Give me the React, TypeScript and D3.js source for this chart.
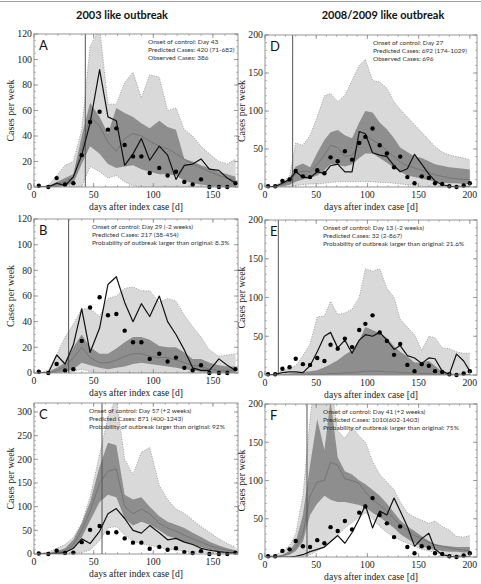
import React from 'react';
import * as d3 from 'd3';

const W = 481;
const H = 584;

// weekly bins (day of the bin) for the two outbreaks
const sarsDays = [4, 12, 19, 26, 33, 40, 47, 55, 62, 69, 76, 83, 90, 97, 105, 112, 119, 126, 133, 140, 147, 155, 162, 169];
const fluDays = [3, 10, 17, 24, 30, 37, 44, 51, 58, 64, 71, 78, 85, 92, 98, 105, 112, 119, 126, 132, 139, 146, 153, 160, 166, 173, 180, 187, 194, 200];

// observed cases per week
const sarsObserved = [1, 0, 7, 2, 3, 25, 51, 59, 45, 46, 33, 24, 24, 11, 15, 9, 12, 4, 2, 6, 0, 0, 0, 3];
const fluObserved = [1, 1, 8, 10, 21, 14, 13, 22, 18, 39, 34, 47, 36, 58, 66, 77, 55, 44, 26, 40, 13, 5, 14, 12, 5, 4, 1, 0, 2, 5];

// A: control at day 43
const aOuterHi = [0, 1, 9, 17, 20, 45, 110, 125, 65, 65, 82, 90, 70, 88, 86, 60, 62, 45, 40, 32, 26, 20, 18, 22];
const aOuterLo = [0, 0, 0, 0, 0, 0, 16, 12, 7, 9, 4, 1, 0, 0, 0, 0, 0, 0, 0, 0, 0, 0, 0, 0];
const aInnerHi = [0, 1, 4, 7, 10, 40, 66, 55, 42, 62, 58, 55, 50, 46, 52, 47, 45, 22, 20, 17, 15, 12, 10, 8];
const aInnerLo = [0, 0, 0, 1, 3, 18, 32, 26, 18, 15, 16, 17, 14, 12, 10, 10, 9, 5, 3, 2, 1, 0, 0, 0];
const aMedian = [0, 0, 2, 4, 8, 30, 55, 48, 35, 28, 38, 42, 40, 36, 32, 30, 26, 22, 18, 15, 12, 9, 7, 5];
const aRun = [0, 0, 3, 1, 8, 25, 50, 92, 55, 52, 17, 26, 38, 21, 32, 25, 6, 17, 18, 22, 14, 13, 7, 3];

// B: control two weeks earlier
const bOuterHi = [0, 2, 14, 28, 38, 50, 50, 44, 58, 60, 66, 67, 64, 64, 55, 58, 56, 45, 36, 28, 18, 13, 14, 15];
const bOuterLo = [0, 0, 0, 0, 1, 3, 1, 0, 0, 0, 0, 0, 0, 0, 0, 0, 0, 0, 0, 0, 0, 0, 0, 0];
const bInnerHi = [0, 1, 4, 8, 20, 30, 20, 15, 15, 19, 24, 28, 28, 26, 21, 20, 20, 16, 11, 11, 8, 6, 5, 5];
const bInnerLo = [0, 0, 0, 1, 3, 8, 6, 4, 3, 4, 5, 7, 8, 7, 6, 5, 4, 3, 2, 1, 0, 0, 0, 0];
const bMedian = [0, 0, 2, 5, 12, 20, 12, 8, 8, 10, 13, 15, 15, 13, 12, 12, 10, 8, 6, 5, 3, 2, 2, 2];
const bRun = [0, 0, 14, 7, 22, 50, 16, 35, 69, 75, 55, 40, 54, 44, 60, 40, 30, 18, 4, 2, 2, 11, 6, 2];

// C: control two weeks later
const cOuterHi = [1, 4, 12, 20, 35, 65, 120, 210, 290, 330, 200, 168, 215, 225, 145, 115, 95, 86, 72, 58, 46, 32, 22, 15];
const cOuterLo = [0, 0, 0, 0, 1, 3, 8, 28, 55, 58, 40, 26, 22, 18, 14, 10, 8, 6, 4, 3, 2, 1, 1, 0];
const cInnerHi = [0, 2, 6, 12, 30, 65, 110, 185, 235, 230, 125, 115, 120, 100, 80, 68, 62, 55, 45, 36, 26, 18, 12, 8];
const cInnerLo = [0, 0, 1, 3, 12, 35, 70, 110, 125, 120, 75, 60, 68, 62, 50, 38, 33, 25, 20, 14, 9, 6, 4, 2];
const cMedian = [0, 1, 3, 7, 20, 50, 90, 150, 175, 180, 100, 85, 95, 85, 65, 55, 48, 40, 32, 25, 18, 12, 8, 5];
const cRun = [0, 0, 1, 3, 12, 32, 22, 48, 85, 96, 75, 50, 44, 60, 45, 30, 33, 25, 20, 12, 8, 5, 3, 2];

// D: control at day 27
const dOuterHi = [0, 2, 7, 14, 58, 55, 68, 92, 120, 123, 112, 121, 140, 160, 168, 140, 138, 130, 112, 102, 92, 82, 72, 62, 53, 46, 42, 40, 38, 36];
const dOuterLo = [0, 0, 0, 0, 2, 3, 4, 4, 5, 6, 7, 7, 7, 7, 7, 7, 6, 6, 5, 4, 3, 2, 1, 0, 0, 0, 0, 0, 0, 0];
const dInnerHi = [0, 1, 5, 12, 27, 31, 26, 45, 62, 72, 75, 68, 64, 85, 100, 98, 85, 76, 64, 52, 46, 40, 38, 34, 30, 28, 26, 25, 24, 23];
const dInnerLo = [0, 0, 1, 3, 7, 10, 12, 15, 22, 30, 29, 27, 30, 38, 44, 44, 38, 32, 25, 20, 15, 13, 11, 9, 7, 6, 5, 5, 4, 4];
const dMedian = [0, 1, 3, 8, 17, 21, 20, 30, 42, 55, 52, 40, 42, 55, 68, 62, 56, 48, 40, 33, 28, 25, 22, 19, 16, 14, 12, 11, 10, 10];
const dRun = [0, 1, 5, 10, 20, 13, 12, 20, 18, 28, 30, 20, 20, 73, 70, 45, 42, 40, 28, 20, 24, 43, 30, 17, 8, 3, 1, 0, 0, 0];

// E: control two weeks earlier
const eOuterHi = [0, 1, 6, 9, 12, 25, 40, 75, 76, 95, 78, 80, 85, 100, 137, 134, 137, 112, 100, 72, 62, 52, 32, 50, 48, 35, 34, 30, 28, 28];
const eOuterLo = [0, 0, 0, 0, 0, 0, 0, 0, 0, 0, 0, 0, 0, 0, 0, 0, 0, 0, 0, 0, 0, 0, 0, 0, 0, 0, 0, 0, 0, 0];
const eInnerHi = [0, 0, 1, 2, 3, 4, 5, 6, 10, 14, 19, 26, 32, 45, 62, 58, 54, 48, 37, 30, 24, 16, 16, 18, 12, 4, 2, 1, 1, 1];
const eInnerLo = [0, 0, 0, 0, 0, 0, 0, 0, 0, 0, 0, 0, 0, 0, 0, 0, 0, 0, 0, 0, 0, 0, 0, 0, 0, 0, 0, 0, 0, 0];
const eMedian = [0, 0, 0, 0, 0, 0, 1, 1, 1, 2, 2, 3, 3, 4, 5, 5, 5, 4, 4, 3, 3, 2, 2, 2, 1, 1, 1, 0, 0, 0];
const eRun = [0, 1, 3, 4, 4, 3, 12, 30, 50, 55, 35, 45, 28, 45, 52, 50, 55, 45, 33, 38, 25, 22, 15, 22, 21, 5, 1, 27, 18, 5];

// F: control two weeks later
const fOuterHi = [1, 3, 7, 15, 30, 80, 180, 260, 260, 230, 165, 155, 170, 158, 150, 125, 108, 98, 88, 72, 58, 52, 48, 44, 47, 40, 35, 27, 26, 28];
const fOuterLo = [0, 0, 0, 0, 0, 0, 3, 8, 13, 20, 28, 38, 45, 52, 58, 50, 40, 32, 26, 22, 18, 14, 10, 8, 6, 4, 3, 2, 1, 1];
const fInnerHi = [0, 1, 3, 8, 20, 55, 120, 180, 140, 205, 130, 112, 108, 100, 95, 88, 80, 70, 58, 48, 40, 34, 27, 21, 17, 15, 14, 13, 13, 13];
const fInnerLo = [0, 0, 1, 3, 8, 20, 55, 70, 80, 75, 72, 72, 70, 68, 65, 58, 52, 45, 38, 30, 24, 18, 14, 11, 9, 8, 7, 7, 6, 6];
const fMedian = [0, 0, 2, 5, 12, 30, 80, 98, 100, 124, 120, 102, 100, 96, 85, 75, 68, 60, 50, 42, 35, 28, 24, 19, 16, 14, 12, 10, 9, 8];
const fRun = [0, 0, 0, 0, 1, 3, 7, 10, 13, 20, 28, 18, 32, 50, 68, 38, 60, 55, 77, 60, 40, 14, 24, 31, 10, 3, 1, 0, 0, 0];

const SERIF = '"Liberation Serif", "DejaVu Serif", serif';
const SANS = 'Lato, "Open Sans", sans-serif';

const LIGHT = '#d9d9d9';
const DARK = '#8e8e8e';
const FRAME = '#8a8a8a';

type Box = { x0: number; x1: number; y0: number; y1: number };

type PanelProps = {
  id: string;
  letter: string;
  box: Box;
  days: number[];
  observed: number[];
  xMax: number;
  yMax: number;
  yStep: number;
  yMinor: number;
  control: number;
  notes: string[];
  noteX: number;
  outerHi: number[];
  outerLo: number[];
  innerHi: number[];
  innerLo: number[];
  median: number[];
  run: number[];
};

function Panel(p: PanelProps) {
  const { x0, x1, y0, y1 } = p.box;
  const x = d3.scaleLinear().domain([0, p.xMax]).range([x0, x1]);
  const y = d3.scaleLinear().domain([0, p.yMax]).range([y1, y0]);
  const idx = d3.range(p.days.length);

  const band = (lo: number[], hi: number[]) =>
    d3.area<number>().x(i => x(p.days[i])).y0(i => y(lo[i])).y1(i => y(hi[i]))(idx) || '';
  const line = (v: number[]) =>
    d3.line<number>().x(i => x(p.days[i])).y(i => y(v[i]))(idx) || '';

  const xMajor = d3.range(0, p.xMax + 0.1, 50);
  const xMinor = d3.range(0, p.xMax + 0.1, 10);
  const yMajor = d3.range(0, p.yMax + 0.1, p.yStep);
  const yMinor = d3.range(0, p.yMax + 0.1, p.yMinor);
  const clip = `clip-${p.id}`;

  return (
    <g>
      <defs>
        <clipPath id={clip}>
          <rect x={x0} y={y0} width={x1 - x0} height={y1 - y0} />
        </clipPath>
      </defs>
      <g clipPath={`url(#${clip})`}>
        <path d={band(p.outerLo, p.outerHi)} fill={LIGHT} />
        <path d={band(p.innerLo, p.innerHi)} fill={DARK} />
        <path d={line(p.outerHi)} fill="none" stroke="#8c8c8c" strokeWidth={0.8} strokeDasharray="1,1.5" />
        <path d={line(p.outerLo)} fill="none" stroke="#8c8c8c" strokeWidth={0.8} strokeDasharray="1,1.5" />
        <path d={line(p.median)} fill="none" stroke="#6a6a6a" strokeWidth={0.7} />
        <line x1={x(p.control)} x2={x(p.control)} y1={y1} y2={y0} stroke="#555" strokeWidth={1} />
        <path d={line(p.run)} fill="none" stroke="#111" strokeWidth={1.2} strokeLinejoin="round" />
      </g>
      {p.observed.map((v, i) => (
        <circle key={i} cx={x(p.days[i])} cy={y(v)} r={2.2} fill="#000" />
      ))}

      {/* frame with inward ticks on all four sides */}
      <rect x={x0} y={y0} width={x1 - x0} height={y1 - y0} fill="none" stroke={FRAME} strokeWidth={0.9} />
      {xMinor.map(t => (
        <g key={'xm' + t} stroke={FRAME} strokeWidth={0.6}>
          <line x1={x(t)} x2={x(t)} y1={y1} y2={y1 - 2} />
          <line x1={x(t)} x2={x(t)} y1={y0} y2={y0 + 2} />
        </g>
      ))}
      {xMajor.map(t => (
        <g key={'xM' + t}>
          <line x1={x(t)} x2={x(t)} y1={y1} y2={y1 - 4} stroke={FRAME} strokeWidth={0.8} />
          <line x1={x(t)} x2={x(t)} y1={y0} y2={y0 + 4} stroke={FRAME} strokeWidth={0.8} />
          <text x={x(t)} y={y1 + 10.5} textAnchor="middle" fontFamily={SERIF} fontSize={9.8} fill="#222">{t}</text>
        </g>
      ))}
      {yMinor.map(t => (
        <g key={'ym' + t} stroke={FRAME} strokeWidth={0.6}>
          <line x1={x0} x2={x0 + 2} y1={y(t)} y2={y(t)} />
          <line x1={x1} x2={x1 - 2} y1={y(t)} y2={y(t)} />
        </g>
      ))}
      {yMajor.map(t => (
        <g key={'yM' + t}>
          <line x1={x0} x2={x0 + 4} y1={y(t)} y2={y(t)} stroke={FRAME} strokeWidth={0.8} />
          <line x1={x1} x2={x1 - 4} y1={y(t)} y2={y(t)} stroke={FRAME} strokeWidth={0.8} />
          <text x={x0 - 2} y={y(t) + 3.3} textAnchor="end" fontFamily={SERIF} fontSize={9.8} fill="#222">{t}</text>
        </g>
      ))}

      <text x={(x0 + x1) / 2} y={y1 + 23} textAnchor="middle" fontFamily={SERIF} fontSize={9.6} fill="#222">
        days after index case [d]
      </text>
      <text
        transform={`translate(${x0 - 20},${(y0 + y1) / 2}) rotate(-90)`}
        textAnchor="middle"
        fontFamily={SERIF}
        fontSize={10}
        fill="#222"
      >
        Cases per week
      </text>

      <text x={x0 + 5} y={y0 + 16} fontFamily={SANS} fontSize={13} fill="#111">{p.letter}</text>
      {p.notes.map((s, i) => (
        <text key={i} x={p.noteX} y={y0 + 10 + i * 7.8} fontFamily={SANS} fontSize={6.5} fill="#333">{s}</text>
      ))}
    </g>
  );
}

const leftX = { x0: 34, x1: 238 };
const rightX = { x0: 265, x1: 477 };

export default function App() {
  return (
    <svg width={W} height={H} style={{ position: 'absolute', left: 0, top: 0, background: '#fff' }}>
      <rect width={W} height={H} fill="#fff" />
      <line x1={0} x2={W} y1={1.5} y2={1.5} stroke="#a0a0a0" strokeWidth={1} />

      <text x={122} y={19} textAnchor="middle" fontFamily={SANS} fontWeight="bold" fontSize={11} fill="#111">
        2003 like outbreak
      </text>
      <text x={383} y={19} textAnchor="middle" fontFamily={SANS} fontWeight="bold" fontSize={11} fill="#111">
        2008/2009 like outbreak
      </text>

      <Panel id="a" letter="A" box={{ ...leftX, y0: 34, y1: 187 }} days={sarsDays} observed={sarsObserved}
        xMax={171} yMax={120} yStep={20} yMinor={5} control={43} noteX={148}
        notes={['Onset of control: Day 43', 'Predicted Cases: 420 (71-682)', 'Observed Cases: 386']}
        outerHi={aOuterHi} outerLo={aOuterLo} innerHi={aInnerHi} innerLo={aInnerLo} median={aMedian} run={aRun} />

      <Panel id="b" letter="B" box={{ ...leftX, y0: 219, y1: 373 }} days={sarsDays} observed={sarsObserved}
        xMax={171} yMax={120} yStep={20} yMinor={5} control={29} noteX={92}
        notes={['Onset of control: Day 29 (-2 weeks)', 'Predicted Cases: 217 (38-454)', 'Probability of outbreak larger than original: 8.3%']}
        outerHi={bOuterHi} outerLo={bOuterLo} innerHi={bInnerHi} innerLo={bInnerLo} median={bMedian} run={bRun} />

      <Panel id="c" letter="C" box={{ ...leftX, y0: 403, y1: 554 }} days={sarsDays} observed={sarsObserved}
        xMax={171} yMax={319} yStep={50} yMinor={10} control={57} noteX={89}
        notes={['Onset of control: Day  57 (+2 weeks)', 'Predicted Cases: 871 (400-1243)', 'Probability of outbreak larger than original: 92%']}
        outerHi={cOuterHi} outerLo={cOuterLo} innerHi={cInnerHi} innerLo={cInnerLo} median={cMedian} run={cRun} />

      <Panel id="d" letter="D" box={{ ...rightX, y0: 35, y1: 187 }} days={fluDays} observed={fluObserved}
        xMax={207} yMax={200} yStep={50} yMinor={10} control={27} noteX={373}
        notes={['Onset of control: Day 27', 'Predicted Cases: 692 (174-1029)', 'Observed Cases: 696']}
        outerHi={dOuterHi} outerLo={dOuterLo} innerHi={dInnerHi} innerLo={dInnerLo} median={dMedian} run={dRun} />

      <Panel id="e" letter="E" box={{ ...rightX, y0: 220, y1: 375 }} days={fluDays} observed={fluObserved}
        xMax={207} yMax={200} yStep={50} yMinor={10} control={13} noteX={323}
        notes={['Onset of control: Day 13 (-2 weeks)', 'Predicted Cases: 32 (2-867)', 'Probability of outbreak larger than original: 21.6%']}
        outerHi={eOuterHi} outerLo={eOuterLo} innerHi={eInnerHi} innerLo={eInnerLo} median={eMedian} run={eRun} />

      <Panel id="f" letter="F" box={{ ...rightX, y0: 404, y1: 557 }} days={fluDays} observed={fluObserved}
        xMax={207} yMax={200} yStep={50} yMinor={10} control={41} noteX={323}
        notes={['Onset of control: Day 41 (+2 weeks)', 'Predicted Cases: 1010(602-1403)', 'Probability of outbreak larger than original: 75%']}
        outerHi={fOuterHi} outerLo={fOuterLo} innerHi={fInnerHi} innerLo={fInnerLo} median={fMedian} run={fRun} />
    </svg>
  );
}
